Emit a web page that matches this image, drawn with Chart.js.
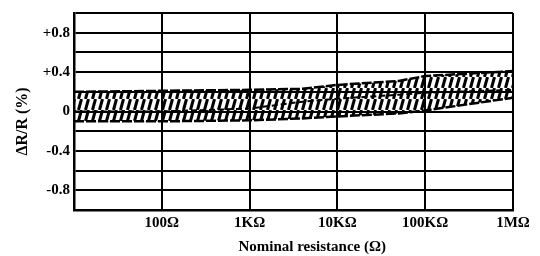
<!DOCTYPE html>
<html>
<head>
<meta charset="utf-8">
<script src="https://cdn.jsdelivr.net/npm/chart.js@4"></script>
<style>
  html, body { margin: 0; padding: 0; background: #fff; }
  #wrap { width: 540px; height: 256px; }
</style>
</head>
<body>
<div id="wrap"><canvas id="drift"></canvas></div>
<script>
/*_____________________DATA____________________*/

const resistance = [10, 100, 1000, 4000, 10000, 50000, 100000, 1000000];
const upperLimit = [0.20, 0.21, 0.22, 0.23, 0.27, 0.31, 0.36, 0.41];
const midLine    = [0.00, 0.00, 0.03, 0.10, 0.13, 0.17, 0.19, 0.22];
const lowerLimit = [-0.10, -0.10, -0.09, -0.07, -0.05, -0.02, 0.01, 0.14];

const xTickValues = [10, 100, 1000, 10000, 100000, 1000000];
const xTickLabels = ['', '100Ω', '1KΩ', '10KΩ', '100KΩ', '1MΩ'];
const yTickValues = [-1, -0.8, -0.6, -0.4, -0.2, 0, 0.2, 0.4, 0.6, 0.8, 1];
const yTickLabels = ['', '-0.8', '', '-0.4', '', '0', '', '+0.4', '', '+0.8', ''];

/*_____________________HATCH____________________*/

function hatch() {
  const c = document.createElement('canvas');
  c.width = 7; c.height = 11;
  const g = c.getContext('2d');
  g.strokeStyle = '#000';
  g.lineWidth = 3;
  g.beginPath();
  g.moveTo(1.5, 11);
  g.lineTo(4.5, 0);
  g.stroke();
  return g.createPattern(c, 'repeat');
}

const pts = (ys) => resistance.map((r, i) => ({x: r, y: ys[i]}));
const tickFont = {family: 'Liberation Serif', size: 15, weight: 'bold'};

new Chart(document.getElementById('drift'), {
  type: 'line',
  data: {
    datasets: [
      {
        label: 'upper',
        data: pts(upperLimit),
        borderColor: '#000',
        borderWidth: 2.5,
        borderDash: [10, 2],
        backgroundColor: hatch(),
        fill: 2,
        pointRadius: 0,
        tension: 0
      },
      {
        label: 'mid',
        data: pts(midLine),
        borderColor: '#000',
        borderWidth: 2,
        borderDash: [6, 3],
        fill: false,
        pointRadius: 0,
        tension: 0
      },
      {
        label: 'lower',
        data: pts(lowerLimit),
        borderColor: '#000',
        borderWidth: 2.5,
        borderDash: [10, 2],
        fill: false,
        pointRadius: 0,
        tension: 0
      }
    ]
  },
  options: {
    responsive: true,
    maintainAspectRatio: false,
    animation: false,
    layout: {padding: {left: 0, right: 27, top: 11, bottom: 0}},
    plugins: {legend: {display: false}, tooltip: {enabled: false}},
    scales: {
      x: {
        type: 'logarithmic',
        min: 10,
        max: 1000000,
        afterBuildTicks: (s) => { s.ticks = xTickValues.map(v => ({value: v})); },
        afterFit: (s) => { s.height = 46; },
        ticks: {
          color: '#000',
          font: tickFont,
          padding: 4,
          maxRotation: 0,
          autoSkip: false,
          callback: (v) => xTickLabels[xTickValues.indexOf(v)]
        },
        grid: {color: '#000', lineWidth: 2, drawTicks: false},
        border: {color: '#000', width: 2.5},
        title: {
          display: true,
          text: '          Nominal resistance (Ω)',
          color: '#000',
          font: {family: 'Liberation Serif', size: 15, weight: 'bold'},
          padding: {top: 0, bottom: 0}
        }
      },
      y: {
        min: -1,
        max: 1,
        afterBuildTicks: (s) => { s.ticks = yTickValues.map(v => ({value: v})); },
        afterFit: (s) => { s.width = 74; },
        ticks: {
          color: '#000',
          font: tickFont,
          padding: 4,
          autoSkip: false,
          callback: (v, i) => yTickLabels[i]
        },
        grid: {color: '#000', lineWidth: 2, drawTicks: false},
        border: {color: '#000', width: 2.5},
        title: {
          display: true,
          text: 'ΔR/R (%)     ',
          color: '#000',
          font: {family: 'Liberation Serif', size: 16, weight: 'bold'},
          padding: {top: 13, bottom: 0}
        }
      }
    }
  }
});
</script>
</body>
</html>
